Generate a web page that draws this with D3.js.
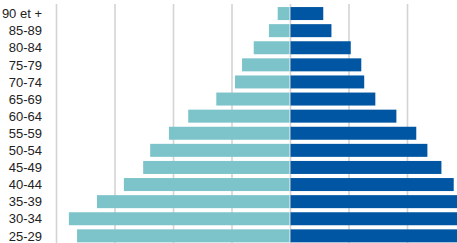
<!doctype html>
<html lang="fr">
  <head>
    <meta charset="utf-8">
    <title>Pyramide des âges</title>
    <script src="https://d3js.org/d3.v7.min.js"></script>
    <style>
      body { margin: 0; background: #fff; }
      svg { display: block; }
    </style>
  </head>
  <body>
    <div id="pyramid"></div>
    <script>

      // age groups, top to bottom (chart is cropped below 25-29)
      const ageGroups = ["90 et +", "85-89", "80-84", "75-79", "70-74", "65-69", "60-64",
                         "55-59", "50-54", "45-49", "40-44", "35-39", "30-34", "25-29"];
      // left side (light) and right side (dark), in %
      const leftValues  = [0.21, 0.36, 0.62, 0.82, 0.94, 1.26, 1.74, 2.07, 2.39, 2.51, 2.84, 3.30, 3.78, 3.64];
      const rightValues = [0.56, 0.70, 1.03, 1.21, 1.26, 1.45, 1.81, 2.15, 2.34, 2.58, 2.79, 3.20, 3.60, 3.50];
      const gridTicks = [-4, -3, -2, -1, 0, 1, 2, 3, 4];

      const width = 457, height = 243;

      const svg = d3.select("#pyramid")
        .append("svg")
          .attr("width", width)
          .attr("height", height);

      // x: center at 290, 58.5px per unit
      const x = d3.scaleLinear()
        .domain([-5, 5])
        .range([290 - 5 * 58.5, 290 + 5 * 58.5]);

      const y = d3.scaleBand()
        .domain(ageGroups)
        .range([5, 5 + ageGroups.length * 17.1])
        .paddingInner(0.24)
        .paddingOuter(0.12);

      // gridlines
      svg.append("g")
        .attr("transform", `translate(0, ${height})`)
        .call(d3.axisBottom(x).tickValues(gridTicks).tickSize(-(height - 4)).tickFormat(""))
        .call(g => g.select(".domain").remove())
        .selectAll("line")
          .attr("stroke", "#d4d4d4")
          .attr("stroke-width", 1.6);

      // left bars
      svg.selectAll(".left")
        .data(ageGroups)
        .enter()
        .append("rect")
          .attr("class", "left")
          .attr("x", (d, i) => x(-leftValues[i]))
          .attr("y", d => y(d))
          .attr("width", (d, i) => x(0) - x(-leftValues[i]) - 0.5)
          .attr("height", y.bandwidth())
          .attr("fill", "#7cc4ca");

      // right bars
      svg.selectAll(".right")
        .data(ageGroups)
        .enter()
        .append("rect")
          .attr("class", "right")
          .attr("x", x(0) + 0.5)
          .attr("y", d => y(d))
          .attr("width", (d, i) => x(rightValues[i]) - x(0))
          .attr("height", y.bandwidth())
          .attr("fill", "#0056a2");

      // age labels
      svg.selectAll(".label")
        .data(ageGroups)
        .enter()
        .append("text")
          .attr("class", "label")
          .attr("x", 42)
          .attr("y", d => y(d) + y.bandwidth() / 2)
          .attr("dy", "0.36em")
          .attr("text-anchor", "end")
          .attr("font-family", "Liberation Sans, Arial, sans-serif")
          .attr("font-size", "13px")
          .attr("fill", "#222")
          .text(d => d);

    </script>
  </body>
</html>
